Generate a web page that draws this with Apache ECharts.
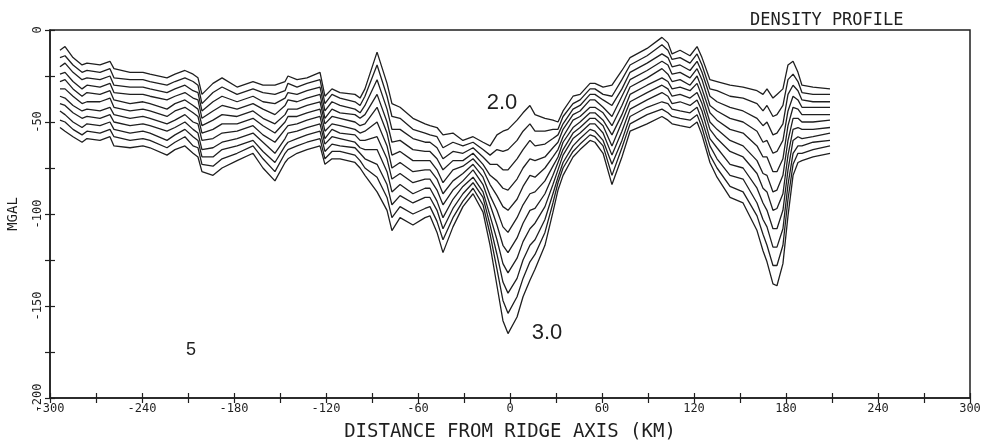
<!DOCTYPE html>
<html><head><meta charset="utf-8">
<script src="https://cdn.jsdelivr.net/npm/echarts@6/dist/echarts.min.js"></script>
<style>html,body{margin:0;background:#fff}#c{width:989px;height:444px}</style>
</head><body><div id="c"></div>
<script>
const distanceKm = [-293.5,-290.2,-285,-279.1,-275.9,-267.4,-260.9,-258.3,-247.8,-239.4,-234.8,-223.7,-218.5,-212,-206.7,-203.5,-200.9,-193.7,-187.8,-178,-167.6,-161.1,-153.3,-146.7,-144.8,-138.9,-132.4,-123.9,-120.7,-116.1,-110.9,-101.1,-97.8,-94.6,-86.7,-80.2,-77,-71.7,-63.3,-55.4,-52.2,-47.6,-43.7,-37.2,-30.7,-24.1,-17.6,-13,-8.5,-4.6,-1.3,4.6,8.5,13,16.3,22.8,28,31.3,34.6,41.1,45.7,52.2,55.4,60.7,66.5,73,78.3,89.4,99.1,103,105.7,110.9,117.4,122,125.2,130.4,135,143.5,152,161.1,165,167.6,171.5,174.1,178,181.3,184.6,187.8,190.4,197.6,208.7];
const xTickLabels = [-300,-240,-180,-120,-60,0,60,120,180,240,300];
const yTickLabels = [0,-50,-100,-150,-200];
const densityNames = ['2.0','2.1','2.2','2.3','2.4','2.5','2.6','2.7','2.8','2.9','3.0'];
const density20 = [-11,-9,-15,-19,-18,-19,-17,-21,-23,-23,-24,-26,-24,-22,-24,-26,-35,-29,-26,-31,-28,-30,-30,-28,-25,-27,-26,-23,-36,-32,-34,-35,-37,-32,-12,-29,-40,-42,-48,-51,-52,-53,-57,-56,-60,-58,-61,-63,-57,-55,-54,-49,-45,-41,-46,-48,-49,-50,-44,-36,-35,-29,-29,-31,-30,-22,-15,-10,-4,-7,-13,-11,-14,-9,-15,-27,-28,-30,-31,-33,-35,-32,-37,-35,-32,-19,-17,-23,-30,-31,-32];
const density21 = [-15,-14,-19,-23,-22,-23,-21,-26,-27,-27,-28,-30,-28,-26,-28,-30,-40,-34,-31,-35,-32,-34,-35,-33,-29,-31,-29,-27,-40,-35,-37,-39,-41,-36,-19,-36,-47,-48,-54,-56,-57,-58,-64,-61,-63,-61,-65,-68,-65,-66,-65,-60,-55,-51,-55,-55,-54,-54,-47,-40,-38,-32,-32,-35,-36,-27,-19,-14,-8,-11,-16,-15,-18,-13,-19,-32,-33,-36,-37,-40,-44,-41,-47,-46,-41,-27,-24,-28,-34,-35,-35];
const density22 = [-20,-18,-23,-27,-26,-27,-25,-30,-31,-31,-32,-34,-32,-30,-33,-34,-44,-39,-36,-39,-36,-39,-40,-37,-34,-35,-33,-31,-44,-39,-41,-43,-45,-41,-27,-43,-54,-54,-59,-61,-61,-64,-70,-66,-67,-64,-69,-73,-73,-76,-76,-70,-65,-60,-63,-62,-59,-57,-51,-43,-41,-35,-35,-38,-41,-32,-23,-18,-13,-15,-20,-19,-22,-17,-23,-36,-39,-42,-44,-48,-52,-50,-57,-56,-51,-35,-30,-33,-38,-39,-39];
const density23 = [-24,-23,-28,-32,-30,-31,-29,-34,-35,-35,-36,-38,-36,-34,-37,-38,-48,-44,-41,-43,-40,-43,-46,-41,-38,-39,-37,-35,-48,-43,-45,-46,-48,-46,-35,-50,-61,-60,-65,-66,-66,-70,-76,-71,-71,-67,-73,-79,-82,-86,-87,-81,-75,-70,-71,-69,-64,-61,-54,-46,-44,-38,-38,-42,-47,-36,-27,-22,-17,-19,-24,-23,-26,-21,-27,-41,-44,-48,-50,-55,-61,-60,-67,-66,-60,-44,-36,-38,-42,-42,-42];
const density24 = [-28,-27,-32,-36,-34,-35,-33,-38,-40,-39,-40,-43,-40,-38,-41,-43,-52,-49,-46,-47,-44,-48,-51,-46,-43,-43,-41,-39,-51,-47,-48,-50,-52,-51,-42,-56,-68,-66,-71,-71,-71,-76,-83,-76,-74,-70,-76,-84,-90,-96,-98,-92,-85,-79,-80,-75,-69,-65,-58,-49,-47,-42,-42,-45,-52,-41,-31,-26,-21,-24,-28,-27,-30,-25,-32,-45,-49,-54,-56,-63,-69,-69,-77,-77,-70,-52,-42,-43,-46,-46,-46];
const density25 = [-32,-32,-36,-40,-39,-39,-37,-42,-44,-43,-44,-47,-44,-42,-45,-47,-56,-54,-51,-51,-48,-52,-56,-50,-47,-47,-45,-43,-55,-51,-52,-54,-56,-55,-50,-63,-75,-72,-77,-76,-76,-81,-89,-82,-78,-73,-80,-90,-98,-107,-110,-102,-95,-89,-88,-82,-74,-69,-61,-53,-50,-45,-45,-49,-57,-46,-35,-30,-26,-28,-32,-31,-33,-29,-36,-50,-54,-60,-63,-71,-78,-79,-88,-87,-79,-60,-48,-48,-50,-50,-49];
const density26 = [-36,-37,-41,-44,-43,-44,-42,-46,-48,-47,-48,-51,-49,-46,-50,-51,-60,-59,-56,-55,-52,-57,-61,-54,-52,-51,-49,-47,-59,-54,-56,-57,-60,-60,-58,-70,-81,-78,-83,-81,-81,-87,-95,-87,-82,-76,-84,-95,-106,-117,-121,-113,-105,-98,-97,-89,-79,-72,-65,-56,-53,-48,-48,-52,-63,-50,-39,-34,-30,-32,-36,-35,-37,-34,-40,-54,-59,-66,-69,-78,-86,-88,-98,-97,-89,-68,-54,-53,-54,-54,-53];
const density27 = [-40,-41,-45,-48,-47,-48,-46,-50,-52,-51,-52,-55,-53,-50,-54,-56,-65,-64,-61,-59,-56,-61,-67,-59,-56,-55,-53,-51,-62,-58,-59,-61,-64,-65,-65,-77,-88,-84,-89,-86,-86,-93,-102,-92,-85,-80,-88,-101,-114,-127,-132,-124,-115,-108,-105,-96,-84,-76,-68,-59,-56,-51,-51,-56,-68,-55,-43,-38,-34,-36,-40,-39,-41,-38,-44,-59,-64,-73,-75,-86,-94,-98,-108,-108,-98,-76,-60,-58,-59,-58,-56];
const density28 = [-44,-46,-50,-53,-51,-52,-50,-54,-56,-55,-56,-60,-57,-54,-58,-60,-69,-69,-65,-63,-60,-66,-72,-63,-61,-59,-57,-55,-66,-62,-63,-64,-67,-70,-73,-84,-95,-90,-94,-91,-91,-98,-108,-97,-89,-83,-91,-106,-122,-137,-143,-135,-125,-117,-114,-103,-89,-80,-72,-63,-59,-54,-55,-60,-73,-60,-47,-42,-39,-40,-43,-44,-45,-42,-49,-63,-70,-79,-81,-94,-103,-107,-118,-118,-108,-84,-67,-63,-63,-61,-60];
const density29 = [-49,-50,-54,-57,-55,-56,-54,-58,-60,-59,-60,-64,-61,-58,-63,-64,-73,-74,-70,-67,-63,-70,-77,-67,-65,-63,-61,-59,-70,-66,-66,-68,-71,-75,-80,-91,-102,-96,-100,-97,-96,-104,-114,-102,-93,-86,-95,-111,-130,-147,-154,-145,-135,-126,-122,-110,-94,-83,-75,-66,-62,-57,-58,-63,-79,-64,-51,-46,-43,-45,-47,-48,-49,-46,-53,-68,-75,-85,-88,-101,-111,-117,-128,-128,-117,-92,-73,-67,-67,-65,-63];
const density30 = [-53,-55,-58,-61,-59,-60,-58,-63,-64,-63,-64,-68,-65,-63,-67,-69,-77,-79,-75,-71,-67,-75,-82,-72,-70,-67,-65,-63,-73,-70,-70,-72,-75,-79,-88,-98,-109,-102,-106,-102,-101,-110,-121,-107,-96,-89,-99,-117,-139,-158,-165,-156,-145,-136,-130,-117,-99,-87,-79,-69,-65,-60,-61,-67,-84,-69,-55,-51,-47,-49,-51,-52,-53,-50,-57,-72,-80,-91,-94,-109,-120,-126,-138,-139,-127,-101,-79,-72,-71,-69,-67];
const curves = [density20,density21,density22,density23,density24,density25,density26,density27,density28,density29,density30];

const ink = '#1f1f1f';
const mono = '"DejaVu Sans Mono", monospace';
const chart = echarts.init(document.getElementById('c'));
const tickStyle = {color: ink, width: 1.2};
chart.setOption({
  animation: false,
  backgroundColor: '#ffffff',
  title: {text: 'DENSITY PROFILE', left: 745, top: 7,
    textStyle: {fontFamily: mono, fontSize: 17, fontWeight: 'normal', color: ink}},
  grid: {left: 50, right: 19, top: 30, bottom: 46, containLabel: false, outerBoundsMode: 'none',
    show: true, borderColor: ink, borderWidth: 1.5},
  xAxis: [
    {type: 'value', min: -300, max: 300, interval: 30,
     axisLine: {onZero: false, lineStyle: {color: ink, width: 1.5}},
     axisTick: {length: 5, lineStyle: tickStyle},
     axisLabel: {formatter: v => xTickLabels.includes(v) ? String(v) : '', fontFamily: mono, fontSize: 12, color: ink, margin: 5},
     splitLine: {show: false},
     name: 'DISTANCE FROM RIDGE AXIS (KM)', nameLocation: 'middle', nameGap: 25,
     nameTextStyle: {fontFamily: mono, fontSize: 19, color: ink}},
    {type: 'value', min: -300, max: 300, interval: 30, position: 'bottom',
     axisLine: {show: false, onZero: false}, axisTick: {inside: true, length: 5, lineStyle: tickStyle},
     axisLabel: {show: false}, splitLine: {show: false}}
  ],
  yAxis: [
    {type: 'value', min: -200, max: 0, interval: 25,
     axisLine: {onZero: false, lineStyle: {color: ink, width: 1.5}},
     axisTick: {length: 5, lineStyle: tickStyle},
     axisLabel: {formatter: v => yTickLabels.includes(v) ? String(v) : '', rotate: 90, fontFamily: mono, fontSize: 12, color: ink, margin: 6},
     splitLine: {show: false},
     name: 'MGAL', nameLocation: 'middle', nameGap: 30, nameRotate: 90,
     nameTextStyle: {fontFamily: mono, fontSize: 14, color: ink}},
    {type: 'value', min: -200, max: 0, interval: 25, position: 'left',
     axisLine: {show: false, onZero: false}, axisTick: {inside: true, length: 5, lineStyle: tickStyle},
     axisLabel: {show: false}, splitLine: {show: false}}
  ],
  graphic: [
    {type: 'text', x: 502, y: 103, style: {text: '2.0', font: '22px "Liberation Sans"', fill: ink, textAlign: 'center', textVerticalAlign: 'middle'}},
    {type: 'text', x: 547, y: 333, style: {text: '3.0', font: '22px "Liberation Sans"', fill: ink, textAlign: 'center', textVerticalAlign: 'middle'}},
    {type: 'text', x: 191, y: 350, style: {text: '5', font: '18px "Liberation Sans"', fill: ink, textAlign: 'center', textVerticalAlign: 'middle'}}
  ],
  series: curves.map((vals, i) => ({
    name: densityNames[i], type: 'line', xAxisIndex: 0, yAxisIndex: 0,
    showSymbol: false, symbol: 'none', smooth: false,
    lineStyle: {color: ink, width: 1.3},
    data: distanceKm.map((x, j) => [x, vals[j]])
  }))
});
</script></body></html>
